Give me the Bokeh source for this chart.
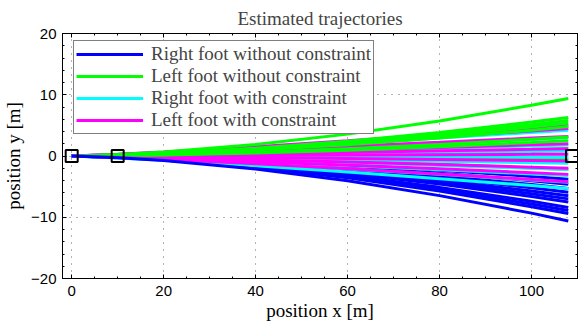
from bokeh.plotting import figure
from bokeh.models import Range1d, LinearAxis, FixedTicker, Legend, LegendItem, CustomJSTickFormatter, Title
from bokeh.embed import file_html
from bokeh.resources import INLINE

# ---- data ----
x_pos = [0, 10, 20, 40, 60, 80, 100, 108]

right_free = [
    [0, -0.10, -0.27, -0.76, -1.44, -2.32, -3.34, -3.8],
    [0, -0.12, -0.32, -0.92, -1.75, -2.81, -4.05, -4.6],
    [0, -0.13, -0.37, -1.06, -2.01, -3.23, -4.66, -5.3],
    [0, -0.15, -0.41, -1.18, -2.24, -3.60, -5.19, -5.9],
    [0, -0.16, -0.46, -1.30, -2.47, -3.97, -5.72, -6.5],
    [0, -0.18, -0.49, -1.40, -2.66, -4.27, -6.16, -7.0],
    [0, -0.19, -0.53, -1.50, -2.85, -4.58, -6.60, -7.5],
    [0, -0.21, -0.59, -1.68, -3.19, -5.12, -7.39, -8.4],
    [0, -0.22, -0.62, -1.78, -3.38, -5.43, -7.83, -8.9],
    [0, -0.24, -0.66, -1.88, -3.57, -5.73, -8.27, -9.4],
    [0, -0.27, -0.74, -2.12, -4.03, -6.47, -9.33, -10.6],
]
left_free = [
    [0, -0.06, -0.15, -0.44, -0.84, -1.34, -1.94, -2.2],
    [0, -0.01, -0.04, -0.10, -0.19, -0.31, -0.44, -0.5],
    [0, 0.03, 0.08, 0.24, 0.46, 0.73, 1.06, 1.2],
    [0, 0.24, 0.66, 1.88, 3.57, 5.73, 8.27, 9.4],
    [0, 0.16, 0.44, 1.26, 2.39, 3.84, 5.54, 6.3],
    [0, 0.15, 0.41, 1.16, 2.20, 3.54, 5.10, 5.8],
    [0, 0.14, 0.38, 1.08, 2.05, 3.29, 4.75, 5.4],
    [0, 0.12, 0.34, 0.96, 1.82, 2.93, 4.22, 4.8],
    [0, 0.08, 0.22, 0.62, 1.18, 1.89, 2.73, 3.1],
    [0, 0.06, 0.18, 0.50, 0.95, 1.53, 2.20, 2.5],
]
right_con = [
    [0, 0.24, 0.55, 1.27, 2.08, 2.93, 3.83, 4.2],
    [0, 0.17, 0.40, 0.91, 1.49, 2.09, 2.74, 3.0],
    [0, 0.10, 0.24, 0.55, 0.89, 1.26, 1.64, 1.8],
    [0, 0.05, 0.11, 0.24, 0.40, 0.56, 0.73, 0.8],
    [0, -0.01, -0.03, -0.06, -0.10, -0.14, -0.18, -0.2],
    [0, -0.07, -0.16, -0.36, -0.59, -0.84, -1.09, -1.2],
    [0, -0.13, -0.29, -0.67, -1.09, -1.54, -2.01, -2.2],
    [0, -0.19, -0.42, -0.97, -1.58, -2.23, -2.92, -3.2],
    [0, -0.25, -0.57, -1.30, -2.13, -3.00, -3.92, -4.3],
    [0, -0.31, -0.70, -1.61, -2.62, -3.70, -4.83, -5.3],
]
left_con = [
    [0, 0.29, 0.66, 1.52, 2.48, 3.49, 4.56, 5.0],
    [0, 0.26, 0.59, 1.36, 2.23, 3.14, 4.10, 4.5],
    [0, 0.19, 0.42, 0.97, 1.58, 2.23, 2.92, 3.2],
    [0, 0.12, 0.26, 0.61, 0.99, 1.40, 1.82, 2.0],
    [0, 0.07, 0.16, 0.36, 0.59, 0.84, 1.09, 1.2],
    [0, 0.02, 0.04, 0.09, 0.15, 0.21, 0.27, 0.3],
    [0, -0.05, -0.11, -0.24, -0.40, -0.56, -0.73, -0.8],
    [0, -0.12, -0.26, -0.61, -0.99, -1.40, -1.82, -2.0],
    [0, -0.17, -0.40, -0.91, -1.49, -2.09, -2.74, -3.0],
    [0, -0.24, -0.55, -1.27, -2.08, -2.93, -3.83, -4.2],
]
marker_x = [0, 10, 108.8]
marker_y = [0, 0, 0]

labels = ["Right foot without constraint", "Left foot without constraint",
          "Right foot with constraint", "Left foot with constraint"]
colors = ["#0000ff", "#00ff00", "#00ffff", "#ff00ff"]
x_ticks = [0, 20, 40, 60, 80, 100]
y_ticks = [-20, -10, 0, 10, 20]
x_minor = list(range(0, 110, 5))
y_minor = list(range(-20, 21, 2))

SERIF = "Liberation Serif"
SANS = "Liberation Sans"

p = figure(width=579, height=324, output_backend="svg", toolbar_location=None,
           x_range=Range1d(-2, 110), y_range=Range1d(-20, 20),
           min_border_left=61, min_border_right=2, min_border_top=33, min_border_bottom=46)
p.outline_line_color = "black"
p.outline_line_width = 1
p.background_fill_color = "white"
p.border_fill_color = "white"

groups = [right_free, left_free, right_con, left_con]
first = [None] * 4
n_max = max(len(g) for g in groups)
for i in range(n_max):
    for g in range(4):
        if i < len(groups[g]):
            r = p.line(x_pos, groups[g][i], line_color=colors[g], line_width=3)
            if first[g] is None:
                first[g] = r

p.scatter(marker_x, marker_y, marker="square", size=12, fill_color=None,
          line_color="black", line_width=2)

for ax in (p.xaxis[0], p.yaxis[0]):
    ax.major_tick_in = 4
    ax.major_tick_out = 0
    ax.minor_tick_in = 2
    ax.minor_tick_out = 0
    ax.major_label_text_font = SANS
    ax.major_label_text_font_size = "15px"
    ax.major_label_text_color = "black"
    ax.axis_label_text_font = SERIF
    ax.axis_label_text_font_size = "19px"
    ax.axis_label_text_font_style = "normal"
    ax.axis_label_text_color = "black"
    ax.axis_line_color = "black"
    ax.major_tick_line_color = "black"
    ax.minor_tick_line_color = "black"
p.xaxis[0].ticker = FixedTicker(ticks=x_ticks, minor_ticks=x_minor)
p.yaxis[0].ticker = FixedTicker(ticks=y_ticks, minor_ticks=y_minor)
p.xaxis.axis_label = "position x [m]"
p.yaxis.axis_label = "position y [m]"
p.xaxis.major_label_standoff = 7
p.yaxis.major_label_standoff = 6
p.xaxis.axis_label_standoff = 1
p.yaxis.axis_label_standoff = 4

p.xgrid.ticker = FixedTicker(ticks=x_ticks)
p.ygrid.ticker = FixedTicker(ticks=y_ticks)
for gr in (p.xgrid[0], p.ygrid[0]):
    gr.grid_line_color = "#666666"
    gr.grid_line_dash = "1 6"
    gr.grid_line_width = 1

blank = CustomJSTickFormatter(code="return ''")
top = LinearAxis(ticker=FixedTicker(ticks=x_ticks, minor_ticks=x_minor),
                 formatter=blank, major_tick_in=4, major_tick_out=0,
                 minor_tick_in=2, minor_tick_out=0, axis_line_color="black",
                 major_label_text_font_size="1px", major_label_standoff=0)
right = LinearAxis(ticker=FixedTicker(ticks=y_ticks, minor_ticks=y_minor),
                   formatter=blank, major_tick_in=4, major_tick_out=0,
                   minor_tick_in=2, minor_tick_out=0, axis_line_color="black",
                   major_label_text_font_size="1px", major_label_standoff=0)
p.add_layout(top, "above")
p.add_layout(right, "right")

title = Title(text="Estimated trajectories", text_font=SERIF, text_font_size="19px",
              text_font_style="normal", align="center", standoff=10, offset=0)
p.add_layout(title, "above")

legend = Legend(items=[LegendItem(label=labels[g], renderers=[first[g]]) for g in range(4)],
                location=(11, 144))
legend.label_text_font = SERIF
legend.label_text_font_size = "19px"
legend.label_text_line_height = 1.0
legend.glyph_width = 67
legend.glyph_height = 20
legend.label_height = 20
legend.spacing = 0
legend.padding = 2
legend.margin = 0
legend.label_standoff = 8
legend.border_line_color = "black"
legend.border_line_width = 1
legend.background_fill_alpha = 1
p.add_layout(legend, "center")

open("out.html", "w").write(file_html(p, INLINE))
